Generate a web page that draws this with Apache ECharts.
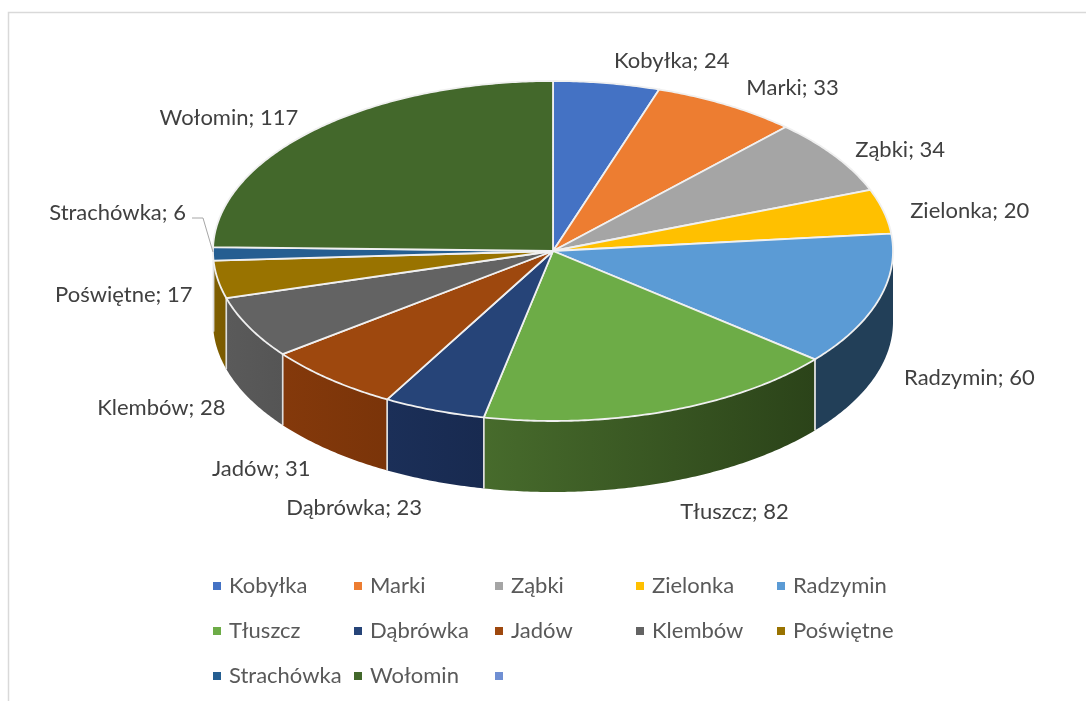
<!DOCTYPE html>
<html><head><meta charset="utf-8">
<style>html,body{margin:0;padding:0;background:#fff}#c{width:1086px;height:701px}</style>
<script src="https://cdn.jsdelivr.net/npm/echarts@6/dist/echarts.min.js"></script>
</head><body><div id="c"></div>
<script>
const categories = ['Kobyłka','Marki','Ząbki','Zielonka','Radzymin','Tłuszcz','Dąbrówka','Jadów','Klembów','Poświętne','Strachówka','Wołomin'];
const values = [24,33,34,20,60,82,23,31,28,17,6,117];
const colors = ['#4472c4','#ed7d31','#a5a5a5','#ffc000','#5b9bd5','#6dac47','#264478','#9e480e','#636363','#997300','#255e91','#43682b'];
const sideLeft = ['#2a4577','#90491d','#646464','#9b7400','#223f58','#476b2c','#1b2f58','#84390b','#5a5a5a','#7f5f00','#1a4266','#2f491e'];
const sideRight = ['#2a4577','#90491d','#646464','#9b7400','#223f58','#2b4319','#182a50','#7a3409','#555555','#7a5a00','#1a4266','#2f491e'];
const emptyLegendColor = '#6f8fd3';
const legendNames = categories.concat([' ']);
const labelNudge = [[65,-22],[66,-17],[65,-6],[86,-0.5],[91,78],[69,100],[-80,98],[-69,89],[-88,80],[-94,15],[-95.5,-41],[-86.5,-12]];

const CX=553, CY=251, RX=340, RY=170, DEPTH=71, FONT='Lato, sans-serif', FS=22;
const total = values.reduce((a,b)=>a+b,0);
const cum = []; values.reduce((s,v,i)=>(cum[i]=s, s+v),0);
const ang = v => v/total*2*Math.PI;
const pt = (a,dy=0)=>[CX+RX*Math.sin(a), CY+dy-RY*Math.cos(a)];
function arc(a0,a1,dy){const n=Math.max(2,Math.ceil((a1-a0)/0.01)),p=[];for(let i=0;i<=n;i++)p.push(pt(a0+(a1-a0)*i/n,dy));return p;}

function renderSlice(i){
  const a0=ang(cum[i]), a1=ang(cum[i]+values[i]);
  const children=[];
  const f0=Math.max(a0,Math.PI/2), f1=Math.min(a1,Math.PI*1.5);
  if(f1>f0){
    const top=arc(f0,f1,0), botF=arc(f0,f1,DEPTH), bot=botF.slice().reverse();
    const xs=top.concat(bot).map(p=>p[0]);
    const xMin=Math.min(...xs), xMax=Math.max(...xs);
    children.push({type:'polygon',shape:{points:top.concat(bot)},style:{
      fill:{type:'linear',x:xMin,y:0,x2:xMax,y2:0,global:true,colorStops:[{offset:0,color:sideLeft[i]},{offset:1,color:sideRight[i]}]}}});
    const stroke={fill:'none',stroke:'#dedede',lineWidth:1.4};
    if(a0>=Math.PI/2) children.push({type:'polyline',shape:{points:[top[0],botF[0]]},style:stroke,z2:1});
    if(a1<=Math.PI*1.5) children.push({type:'polyline',shape:{points:[top[top.length-1],botF[botF.length-1]]},style:stroke,z2:1});
  }
  children.push({type:'polygon',shape:{points:[[CX,CY]].concat(arc(a0,a1,0))},style:{fill:colors[i],stroke:'#f0f0f0',lineWidth:1.8,lineJoin:'round'},z2:2});
  const m=pt((a0+a1)/2);
  children.push({type:'text',x:m[0]+labelNudge[i][0],y:m[1]+labelNudge[i][1],z2:5,style:{text:categories[i]+'; '+values[i],fill:'#404040',font:FS+'px '+FONT,align:'center',verticalAlign:'middle'}});
  return {type:'group',children};
}

const series = categories.map((name,i)=>({
  type:'custom',name,coordinateSystem:'none',silent:true,animation:false,
  itemStyle:{color:colors[i]},
  data:[[values[i]]],
  renderItem:()=>renderSlice(i)
}));
series.push({type:'custom',name:' ',coordinateSystem:'none',silent:true,animation:false,itemStyle:{color:emptyLegendColor},data:[],renderItem:()=>({type:'group',children:[]})});

const legend = legendNames.map((name,k)=>({
  show:true,orient:'horizontal',left:213+(k%5)*141,top:575+Math.floor(k/5)*45,padding:0,
  itemWidth:8,itemHeight:8,selectedMode:false,icon:'rect',
  data:[{name,itemStyle:{color:k<colors.length?colors[k]:emptyLegendColor}}],
  textStyle:{color:'#595959',fontFamily:FONT,fontSize:FS,padding:[0,0,0,3]},
  itemStyle:{borderWidth:0}
}));

const chart = echarts.init(document.getElementById('c'),null,{renderer:'canvas'});
chart.setOption({
  animation:false,backgroundColor:'#fff',
  legend,
  series,
  graphic:[
    {type:'polyline',shape:{points:[[8.5,701],[8.5,12.5],[1086,12.5]]},style:{fill:'none',stroke:'#d9d9d9',lineWidth:1.5},silent:true},
    {type:'polyline',shape:{points:[[192,218],[203,218],[213,252]]},style:{fill:'none',stroke:'#a6a6a6',lineWidth:1},silent:true,z:10}
  ]
});
</script></body></html>
